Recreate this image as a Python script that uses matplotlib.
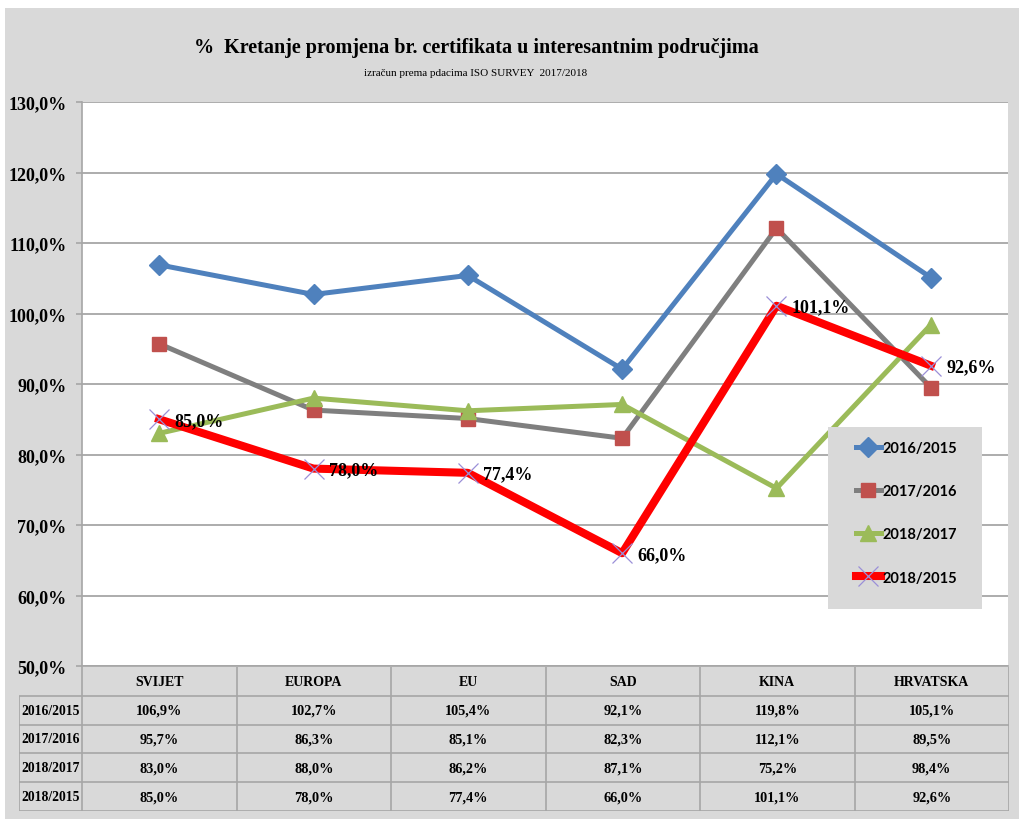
import numpy as np
import matplotlib
matplotlib.use("Agg")
import matplotlib.pyplot as plt
from matplotlib.patches import Rectangle
from matplotlib.ticker import FuncFormatter

# data
regions = ["SVIJET", "EUROPA", "EU", "SAD", "KINA", "HRVATSKA"]
series_names = ["2016/2015", "2017/2016", "2018/2017", "2018/2015"]
v_2016_2015 = [106.9, 102.7, 105.4, 92.1, 119.8, 105.1]
v_2017_2016 = [95.7, 86.3, 85.1, 82.3, 112.1, 89.5]
v_2018_2017 = [83.0, 88.0, 86.2, 87.1, 75.2, 98.4]
v_2018_2015 = [85.0, 78.0, 77.4, 66.0, 101.1, 92.6]
y_ticks = [50, 60, 70, 80, 90, 100, 110, 120, 130]

title = "%  Kretanje promjena br. certifikata u interesantnim područjima"
subtitle = "izračun prema pdacima ISO SURVEY  2017/2018"

serif = "Liberation Serif"
W, H = 1020, 820


def fx(px):
    return px / W


def fy(py):
    return 1 - py / H


def pct(v):
    return ("%.1f%%" % v).replace(".", ",")


fig = plt.figure(figsize=(10.2, 8.2), dpi=100)
fig.patch.set_facecolor("white")
fig.patches.append(Rectangle((fx(5), 0), 1 - fx(5), fy(9), transform=fig.transFigure,
                             facecolor="#d9d9d9", edgecolor="none", zorder=-10))

fig.text(fx(476), fy(48), title, ha="center", va="center", family=serif,
         fontweight="bold", fontsize=14.5)
fig.text(fx(476), fy(73), subtitle, ha="center", va="center", family=serif, fontsize=8)

# main plot
ax = fig.add_axes([fx(82), fy(667), fx(926), 564 / H])
ax.set_facecolor("white")
x = np.arange(len(regions))

styles = [
    dict(color="#4f81bd", lw=3.6, marker="D", ms=10, mfc="#4f81bd", mec="#4f81bd"),
    dict(color="#7f7f7f", lw=3.6, marker="s", ms=10, mfc="#c0504d", mec="#c0504d"),
    dict(color="#9bbb59", lw=3.6, marker="^", ms=11, mfc="#9bbb59", mec="#9bbb59"),
    dict(color="#ff0000", lw=5.8, marker="x", ms=15, mfc="#9b8fd8", mec="#9b8fd8", mew=0.9),
]
all_vals = [v_2016_2015, v_2017_2016, v_2018_2017, v_2018_2015]
handles = []
for vals, st, name in zip(all_vals, styles, series_names):
    h, = ax.plot(x, vals, label=name, zorder=3, **st)
    handles.append(h)

for xi, v in zip(x, v_2018_2015):
    ax.annotate(pct(v), (xi, v), xytext=(11, -1), textcoords="offset points",
                ha="left", va="center", family=serif, fontweight="bold",
                fontsize=13, zorder=4)

ax.set_xlim(-0.5, len(regions) - 0.5)
ax.set_ylim(50, 130)
ax.set_yticks(y_ticks)
ax.yaxis.set_major_formatter(FuncFormatter(lambda v, p: pct(v)))
ax.set_xticks([])
ax.grid(axis="y", color="#a6a6a6", lw=1.3, zorder=0)
ax.tick_params(axis="y", length=4, color="#a6a6a6", width=1.2, pad=7)
for lab in ax.get_yticklabels():
    lab.set_family(serif)
    lab.set_fontweight("bold")
    lab.set_fontsize(13)
for side in ["top", "right"]:
    ax.spines[side].set_visible(False)
for side in ["left", "bottom"]:
    ax.spines[side].set_color("#a6a6a6")
    ax.spines[side].set_linewidth(1.2)

# legend
fig.patches.append(Rectangle((fx(828), fy(610)), fx(982 - 828), (610 - 428) / H,
                             transform=fig.transFigure, facecolor="#d9d9d9",
                             edgecolor="none", zorder=2))
leg = fig.legend(handles, series_names, loc="upper left",
                 bbox_to_anchor=(fx(856), fy(442)), frameon=False, borderpad=0,
                 borderaxespad=0, labelspacing=2.0, handlelength=1.7,
                 handletextpad=0.15, numpoints=1,
                 prop=dict(family="Lato", weight="bold", size=10.5))
leg.set_zorder(3)

# data table below the plot
tab = fig.add_axes([fx(19), fy(812), fx(1009 - 19), 144 / H])
lab_w = (82 - 19) / (926 / 6)
tab.set_xlim(-0.5 - lab_w, len(regions) - 0.5)
tab.set_ylim(5, 0)
tab.axis("off")
gc = "#a6a6a6"
tab.vlines(np.arange(len(regions) + 1) - 0.5, 0, 5, color=gc, lw=1.2)
tab.vlines(-0.5 - lab_w, 1, 5, color=gc, lw=1.2)
tab.hlines([1, 2, 3, 4, 5], -0.5 - lab_w, len(regions) - 0.5, color=gc, lw=1.2)

for i, r in enumerate(regions):
    tab.text(i, 0.5, r, ha="center", va="center", family=serif, fontweight="bold",
             fontsize=10)
for j, (name, vals) in enumerate(zip(series_names, all_vals)):
    tab.text(-0.5 - lab_w / 2, j + 1.5, name, ha="center", va="center", family=serif,
             fontweight="bold", fontsize=9.8)
    for i, v in enumerate(vals):
        tab.text(i, j + 1.5, pct(v), ha="center", va="center", family=serif,
                 fontweight="bold", fontsize=10.3)

fig.savefig("out.png", dpi=100, facecolor=fig.get_facecolor())
